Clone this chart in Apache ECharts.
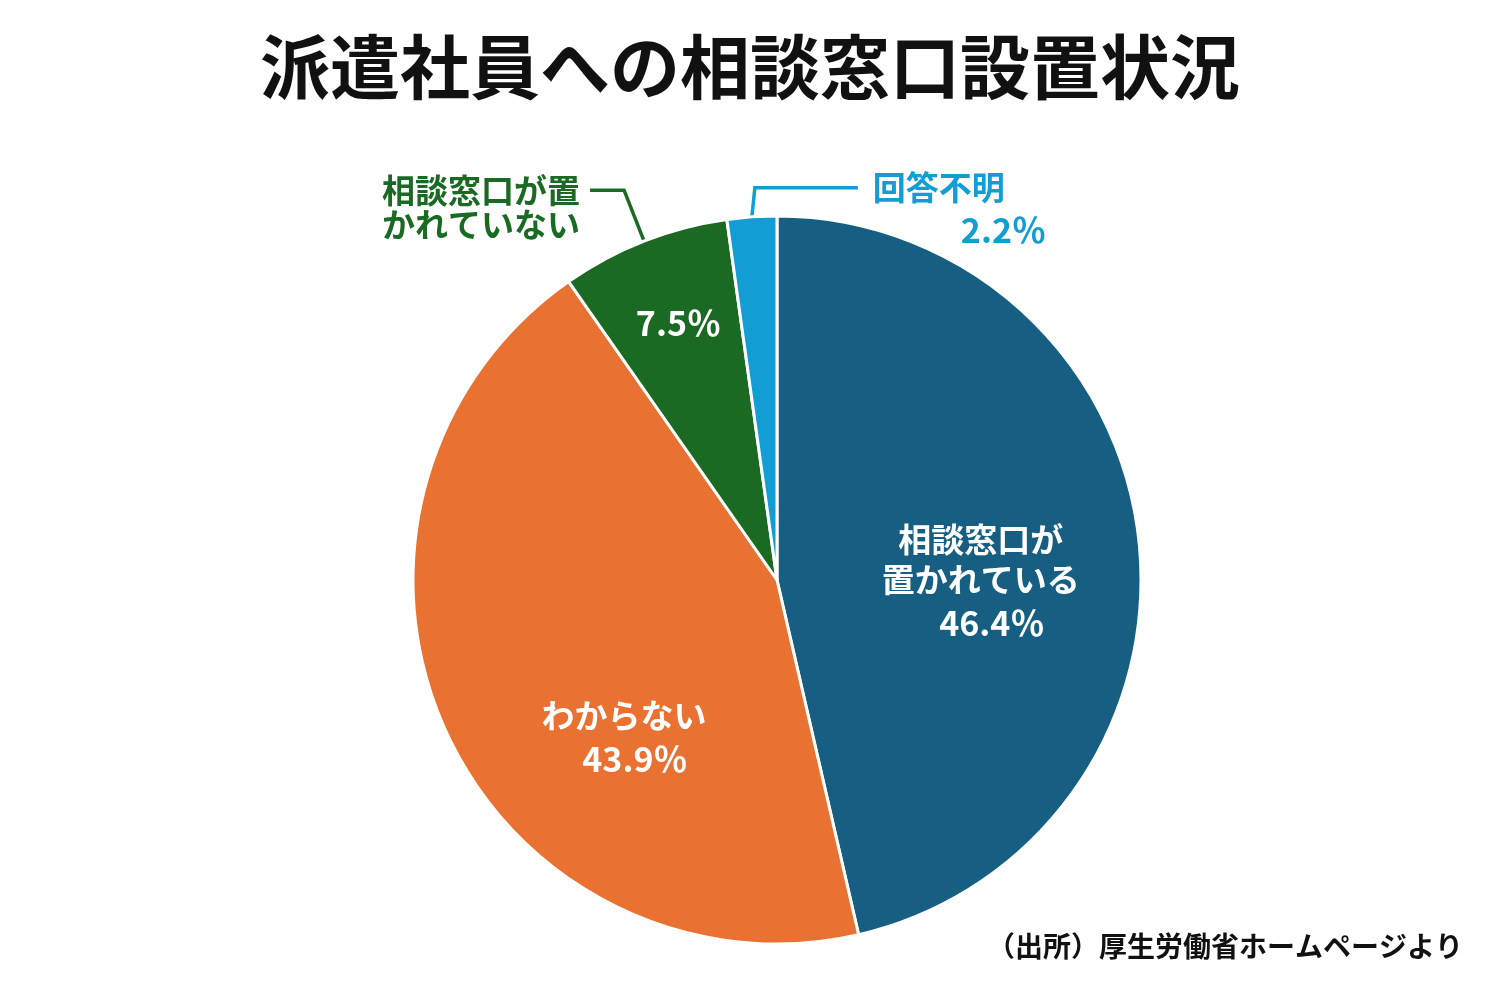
<!DOCTYPE html>
<html>
<head>
<meta charset="utf-8">
<script src="https://cdn.jsdelivr.net/npm/echarts@6/dist/echarts.min.js"></script>
<style>
html, body { margin: 0; padding: 0; background: #fff; }
#main { width: 1500px; height: 1000px; }
</style>
</head>
<body>
<div id="main"></div>
<script>
var categories = ['相談窓口が\n置かれている', 'わからない', '相談窓口が置\nかれていない', '回答不明'];
var values = [46.4, 43.9, 7.5, 2.2];
var colors = ['#175f82', '#e97132', '#1b6a24', '#139dd5'];

var font = '"Noto Sans CJK JP", "Noto Sans", sans-serif';
var myChart = echarts.init(document.getElementById('main'));

function pct(v) { return v.toFixed(1) + '％'; }

var mainData = categories.map(function (name, i) {
    var item = { name: name, value: values[i], itemStyle: { color: colors[i] } };
    if (i === 3) {
        item.label = { position: 'outside' };
        item.labelLine = { show: true, lineStyle: { color: colors[3], width: 3.5 } };
    }
    return item;
});

var nameData = categories.map(function (name, i) {
    return {
        name: name,
        value: values[i],
        label: { show: i === 2 },
        labelLine: { show: i === 2, lineStyle: { color: colors[2], width: 3.5 } }
    };
});

myChart.setOption({
    animation: false,
    title: [{
        text: '派遣社員への相談窓口設置状況',
        left: 'center',
        top: 27,
        textStyle: { fontFamily: font, fontSize: 70, fontWeight: 'bold', color: '#111' }
    }, {
        text: '（出所）厚生労働省ホームページより',
        right: 32,
        top: 927,
        textStyle: { fontFamily: font, fontSize: 28, fontWeight: 'bold', color: '#111' }
    }],
    series: [{
        type: 'pie',
        center: [777, 580],
        radius: 364,
        startAngle: 90,
        clockwise: true,
        avoidLabelOverlap: false,
        itemStyle: { borderColor: '#fff', borderWidth: 3 },
        label: {
            position: 'inside',
            fontFamily: font,
            formatter: function (p) {
                if (p.dataIndex === 2) return '{v|' + pct(p.value) + '}';
                if (p.dataIndex === 3) return '{a|' + p.name + '}\n{b|' + pct(p.value) + '}';
                return '{n|' + p.name + '}\n{v|' + pct(p.value) + '}';
            },
            rich: {
                n: { fontFamily: font, fontSize: 33, fontWeight: 'bold', color: '#fff', lineHeight: 40, align: 'center' },
                v: { fontFamily: font, fontSize: 34, fontWeight: 'bold', color: '#fff', lineHeight: 48, align: 'center', padding: [0, 0, 0, 22] },
                a: { fontFamily: font, fontSize: 33, fontWeight: 'bold', color: colors[3], lineHeight: 36, align: 'left' },
                b: { fontFamily: font, fontSize: 34, fontWeight: 'bold', color: colors[3], lineHeight: 48, align: 'left', padding: [0, 0, 0, 88] }
            }
        },
        labelLayout: function (p) {
            if (p.dataIndex === 0) return { dx: 20, dy: 24 };
            if (p.dataIndex === 1) return { dx: 16, dy: 84 };
            if (p.dataIndex === 2) return { dx: -42, dy: -85 };
            if (p.dataIndex === 3 && p.labelLinePoints) {
                var a = p.labelLinePoints[0];
                var b = [a[0] + 3, a[1] - 29];
                var c = [b[0] + 103, b[1]];
                return { x: c[0] + 15, y: c[1] - 18, align: 'left', verticalAlign: 'top', labelLinePoints: [a, b, c] };
            }
        },
        data: mainData
    }, {
        type: 'pie',
        center: [777, 580],
        radius: 364,
        startAngle: 90,
        clockwise: true,
        silent: true,
        avoidLabelOverlap: false,
        itemStyle: { color: 'rgba(0,0,0,0)', borderWidth: 0 },
        label: {
            position: 'outside',
            formatter: function (p) { return '{a|' + p.name + '}'; },
            rich: {
                a: { fontFamily: font, fontSize: 33, fontWeight: 'bold', color: colors[2], lineHeight: 34, align: 'right' }
            }
        },
        labelLayout: function (p) {
            if (p.dataIndex === 2 && p.labelLinePoints) {
                var a = p.labelLinePoints[0];
                var b = [a[0] - 20, a[1] - 51];
                var c = [b[0] - 34, b[1]];
                return { x: c[0] - 10, y: c[1] - 17, align: 'right', verticalAlign: 'top', labelLinePoints: [a, b, c] };
            }
        },
        data: nameData
    }]
});
</script>
</body>
</html>
